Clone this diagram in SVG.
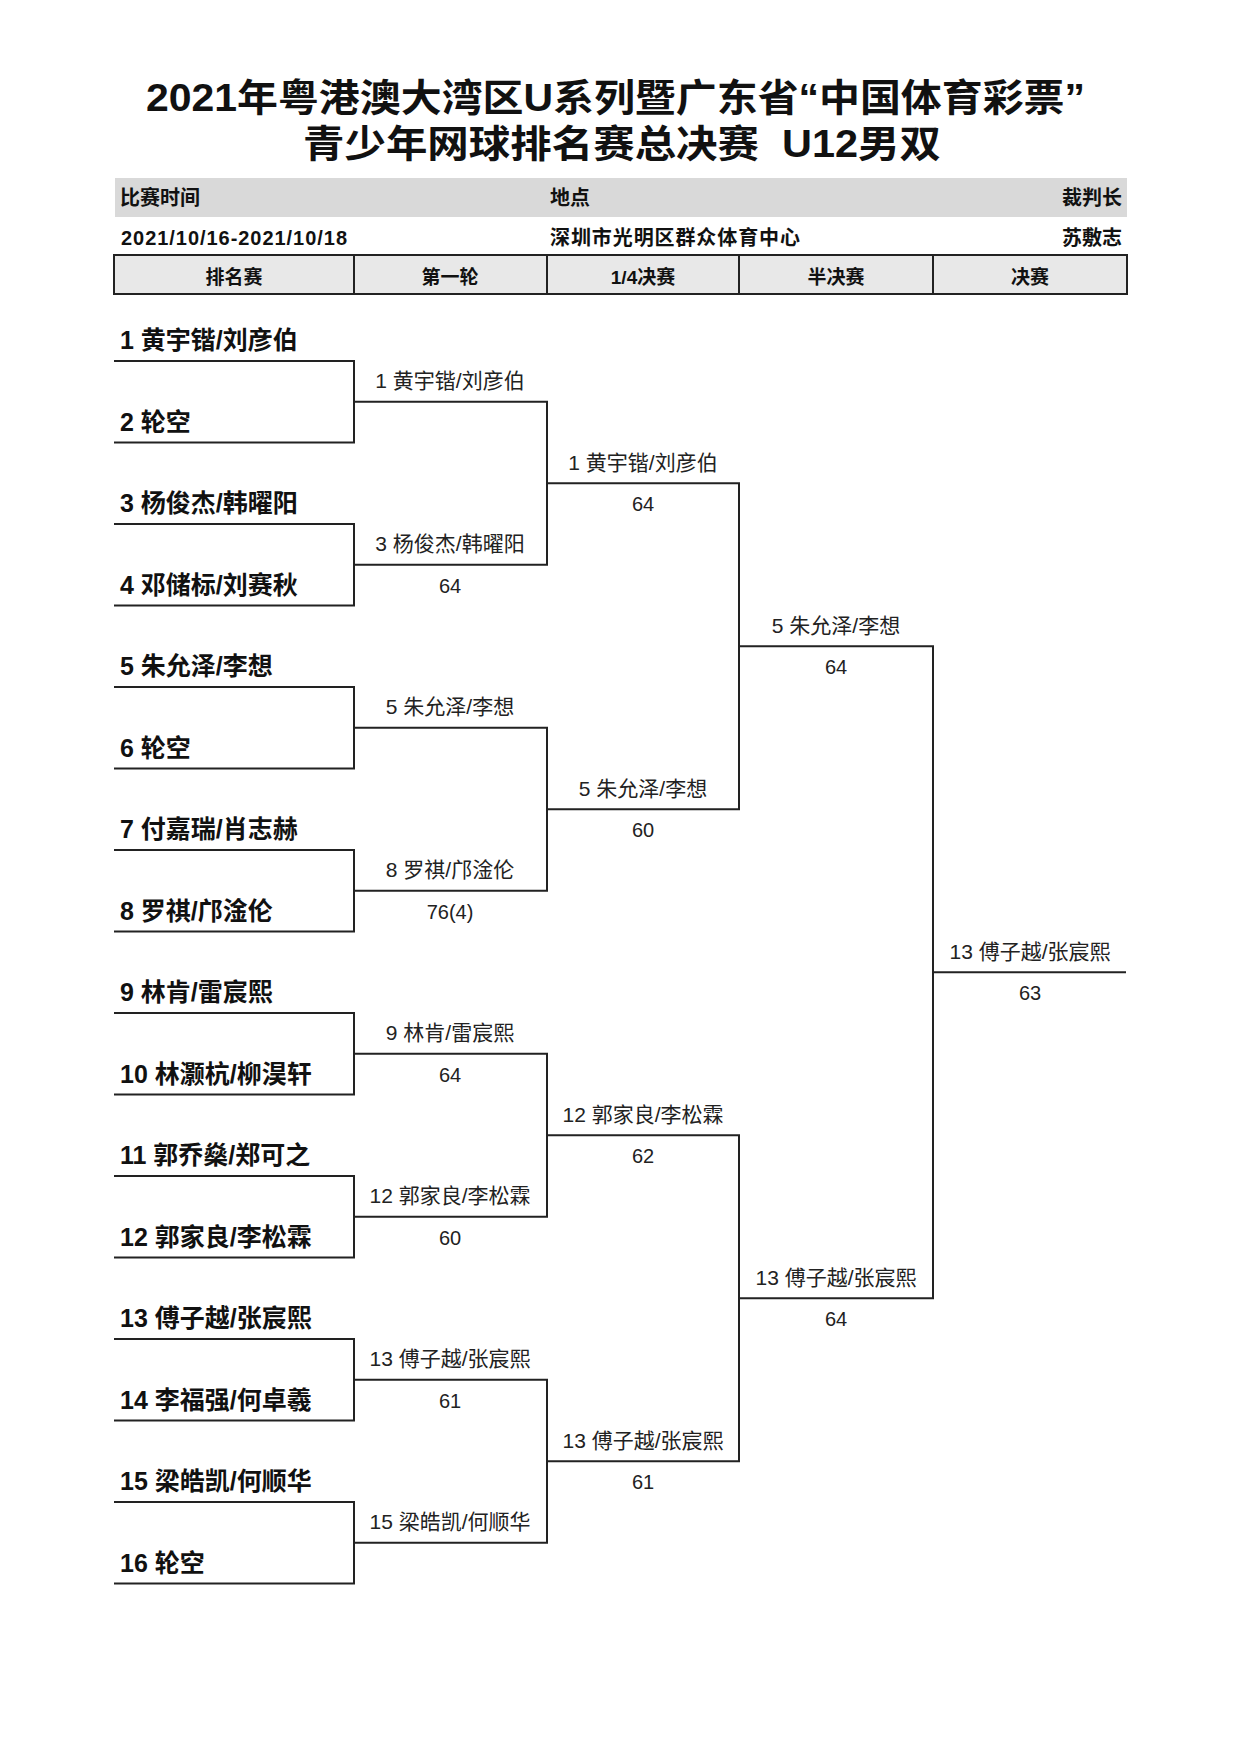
<svg xmlns="http://www.w3.org/2000/svg" width="1241" height="1754" viewBox="0 0 1241 1754">
<style>
text{font-family:"Liberation Sans","Noto Sans CJK SC",sans-serif;fill:#111}
.title{font-size:38px;font-weight:bold}
.hd{font-size:20px;font-weight:bold}
.th{font-size:19px;font-weight:bold;text-anchor:middle}
.pl{font-size:25px;font-weight:bold}
.wn{font-size:21px;text-anchor:middle;fill:#222}
.sc{font-size:20px;text-anchor:middle;fill:#222}
.ln{fill:none;stroke:#222;stroke-width:2}
</style>
<rect width="1241" height="1754" fill="#fff"/>
<g id="title">
<text class="title" x="146" y="111" textLength="939" lengthAdjust="spacingAndGlyphs">2021年粤港澳大湾区U系列暨广东省“中国体育彩票”</text>
<text class="title" x="303" y="157" textLength="638" lengthAdjust="spacingAndGlyphs">青少年网球排名赛总决赛&#160; U12男双</text>
</g>
<g id="info">
<rect x="115" y="178" width="1012" height="39" fill="#d9d9d9"/>
<text class="hd" x="120" y="205" textLength="80">比赛时间</text>
<text class="hd" x="550" y="205" textLength="40">地点</text>
<text class="hd" x="1062" y="205" textLength="60">裁判长</text>
<text class="hd" x="121" y="245" textLength="226">2021/10/16-2021/10/18</text>
<text class="hd" x="550" y="245" textLength="250">深圳市光明区群众体育中心</text>
<text class="hd" x="1062" y="245" textLength="60">苏敷志</text>
</g>
<g id="rounds">
<rect x="114" y="255" width="1013" height="39" fill="#e8e8e8" stroke="#222" stroke-width="2"/>
<path class="ln" d="M354 255V294M547 255V294M739 255V294M933 255V294"/>
<text class="th" x="234" y="284">排名赛</text>
<text class="th" x="450" y="284">第一轮</text>
<text class="th" x="643" y="284">1/4决赛</text>
<text class="th" x="836" y="284">半决赛</text>
<text class="th" x="1030" y="284">决赛</text>
</g>
<g id="connectors">
<path class="ln" d="M114 361H354V442.5H114M114 524H354V605.5H114M114 687H354V768.5H114M114 850H354V931.5H114M114 1013H354V1094.5H114M114 1176H354V1257.5H114M114 1339H354V1420.5H114M114 1502H354V1583.5H114"/>
<path class="ln" d="M354 401.75H547V564.75H354M354 727.75H547V890.75H354M354 1053.75H547V1216.75H354M354 1379.75H547V1542.75H354"/>
<path class="ln" d="M547 483.25H739V809.25H547M547 1135.25H739V1461.25H547"/>
<path class="ln" d="M739 646.25H933V1298.25H739"/>
<path class="ln" d="M933 972.25H1126"/>
</g>
<g id="players">
<g id="p1"><text class="pl" x="120" y="349">1 黄宇锴/刘彦伯</text></g>
<g id="p2"><text class="pl" x="120" y="430.5">2 轮空</text></g>
<g id="p3"><text class="pl" x="120" y="512">3 杨俊杰/韩曜阳</text></g>
<g id="p4"><text class="pl" x="120" y="593.5">4 邓储标/刘赛秋</text></g>
<g id="p5"><text class="pl" x="120" y="675">5 朱允泽/李想</text></g>
<g id="p6"><text class="pl" x="120" y="756.5">6 轮空</text></g>
<g id="p7"><text class="pl" x="120" y="838">7 付嘉瑞/肖志赫</text></g>
<g id="p8"><text class="pl" x="120" y="919.5">8 罗祺/邝淦伦</text></g>
<g id="p9"><text class="pl" x="120" y="1001">9 林肯/雷宸熙</text></g>
<g id="p10"><text class="pl" x="120" y="1082.5">10 林灏杭/柳淏轩</text></g>
<g id="p11"><text class="pl" x="120" y="1164">11 郭乔燊/郑可之</text></g>
<g id="p12"><text class="pl" x="120" y="1245.5">12 郭家良/李松霖</text></g>
<g id="p13"><text class="pl" x="120" y="1327">13 傅子越/张宸熙</text></g>
<g id="p14"><text class="pl" x="120" y="1408.5">14 李福强/何卓羲</text></g>
<g id="p15"><text class="pl" x="120" y="1490">15 梁皓凯/何顺华</text></g>
<g id="p16"><text class="pl" x="120" y="1571.5">16 轮空</text></g>
</g>
<g id="round1">
<g id="r1-1"><text class="wn" x="450" y="388">1 黄宇锴/刘彦伯</text></g>
<g id="r1-2"><text class="wn" x="450" y="551">3 杨俊杰/韩曜阳</text><text class="sc" x="450" y="593">64</text></g>
<g id="r1-3"><text class="wn" x="450" y="714">5 朱允泽/李想</text></g>
<g id="r1-4"><text class="wn" x="450" y="877">8 罗祺/邝淦伦</text><text class="sc" x="450" y="919">76(4)</text></g>
<g id="r1-5"><text class="wn" x="450" y="1040">9 林肯/雷宸熙</text><text class="sc" x="450" y="1082">64</text></g>
<g id="r1-6"><text class="wn" x="450" y="1203">12 郭家良/李松霖</text><text class="sc" x="450" y="1245">60</text></g>
<g id="r1-7"><text class="wn" x="450" y="1366">13 傅子越/张宸熙</text><text class="sc" x="450" y="1408">61</text></g>
<g id="r1-8"><text class="wn" x="450" y="1529">15 梁皓凯/何顺华</text></g>
</g>
<g id="quarter">
<g id="qf-1"><text class="wn" x="643" y="470">1 黄宇锴/刘彦伯</text><text class="sc" x="643" y="511">64</text></g>
<g id="qf-2"><text class="wn" x="643" y="796">5 朱允泽/李想</text><text class="sc" x="643" y="837">60</text></g>
<g id="qf-3"><text class="wn" x="643" y="1122">12 郭家良/李松霖</text><text class="sc" x="643" y="1163">62</text></g>
<g id="qf-4"><text class="wn" x="643" y="1448">13 傅子越/张宸熙</text><text class="sc" x="643" y="1489">61</text></g>
</g>
<g id="semi">
<g id="sf-1"><text class="wn" x="836" y="633">5 朱允泽/李想</text><text class="sc" x="836" y="674">64</text></g>
<g id="sf-2"><text class="wn" x="836" y="1285">13 傅子越/张宸熙</text><text class="sc" x="836" y="1326">64</text></g>
</g>
<g id="final">
<text class="wn" x="1030" y="959">13 傅子越/张宸熙</text><text class="sc" x="1030" y="1000">63</text>
</g>
</svg>
